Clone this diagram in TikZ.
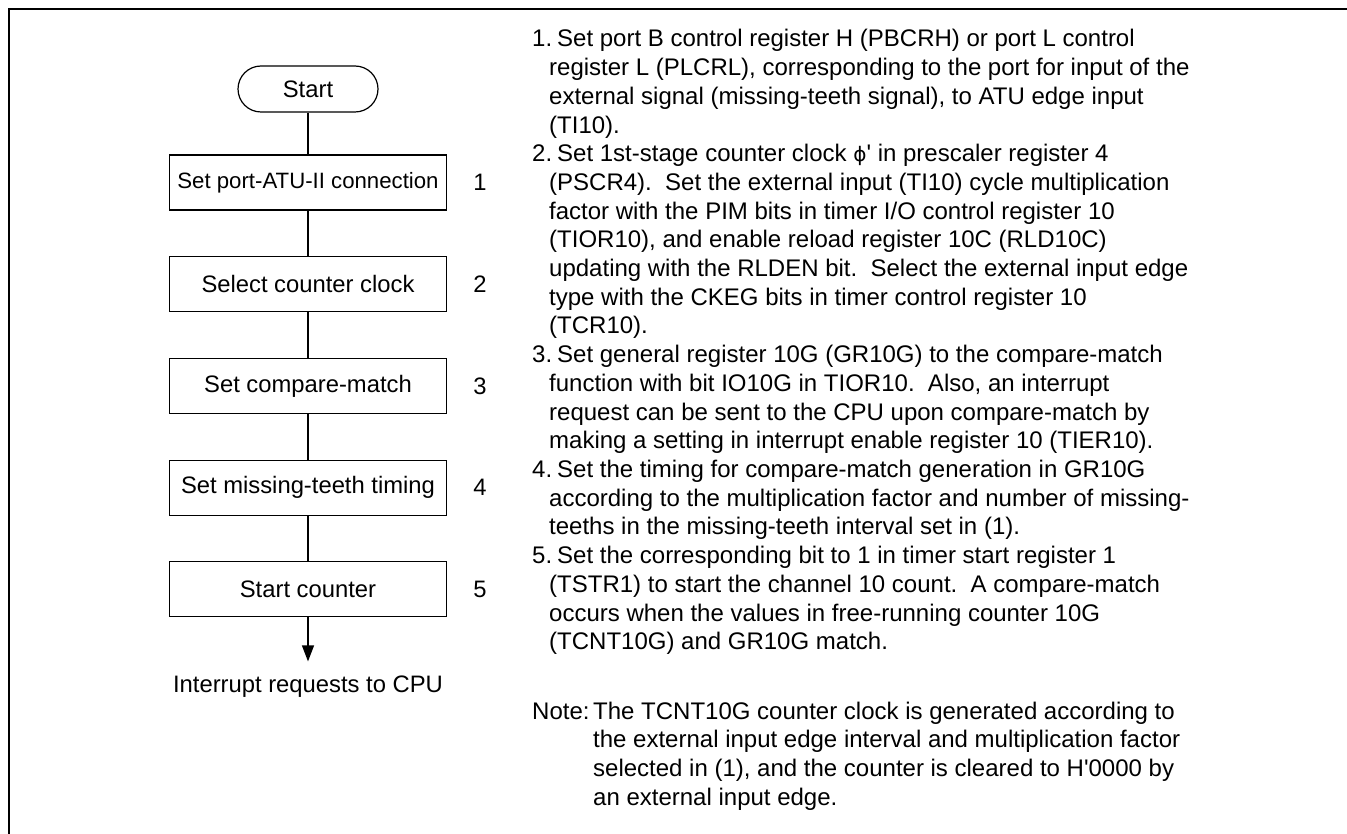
\documentclass[tikz,border=0pt]{standalone}
\usepackage{fontspec}
\setmainfont{Liberation Sans}
\newfontfamily\greekfont{DejaVu Sans}
\usetikzlibrary{arrows.meta,positioning}

\newcommand\itemtext[1]{\parbox[t]{760pt}{\raggedright #1}}

\begin{document}
\begin{tikzpicture}[
  x=1pt, y=-1pt,
  node distance=45.5pt and 26pt,
  every node/.style={font=\fontsize{23.8}{28.7}\selectfont},
  term/.style={draw, rounded corners=23pt, minimum width=140pt, minimum height=46pt, line width=1.2pt},
  box/.style={draw, minimum width=277pt, minimum height=55pt, inner xsep=2pt, line width=1.2pt},
  steplab/.style={inner sep=0pt},
  link/.style={line width=1.2pt},
  arr/.style={line width=1.2pt, -{Triangle[length=16pt, width=12pt]}},
  num/.style={inner sep=0pt, anchor=base west, font=\fontsize{24}{28.7}\selectfont},
  txt/.style={inner sep=0pt, anchor=base west, font=\fontsize{24}{28.7}\selectfont}
]
\useasboundingbox (0,0) rectangle (1347,834);
\draw[line width=2.6pt] (9,834) -- (9,9) -- (1347,9);

% flow
\node[term] (start) at (308,89) {Start};
\node[box, below=41.8pt of start, font=\fontsize{22.2}{28.7}\selectfont] (b1) {Set port-ATU-II connection};
\node[box, below=of b1] (b2) {Select counter clock};
\node[box, below=of b2] (b3) {Set compare-match};
\node[box, below=of b3] (b4) {Set missing-teeth timing};
\node[box, below=of b4] (b5) {Start counter};
\node[inner sep=0pt, below=58pt of b5] (irq) {Interrupt requests to CPU};

\node[steplab, right=of b1] (l1) {1};
\node[steplab, right=of b2] (l2) {2};
\node[steplab, right=of b3] (l3) {3};
\node[steplab, right=of b4] (l4) {4};
\node[steplab, right=of b5] (l5) {5};

\draw[link] (start) -- (b1);
\draw[link] (b1) -- (b2);
\draw[link] (b2) -- (b3);
\draw[link] (b3) -- (b4);
\draw[link] (b4) -- (b5);
\draw[arr, shorten >=14pt] (b5) -- (irq);

% notes
\node[num] (n1) at (532,47) {1.};
\node[txt] (t1) at (549,47) {\itemtext{\hspace*{8pt}Set port B control register H (PBCRH) or port L control\\
register L (PLCRL), corresponding to the port for input of the\\
external signal (missing-teeth signal), to ATU edge input\\
(TI10).}};
\node[num] (n2) at (532,161.8) {2.};
\node[txt] (t2) at (549,161.8) {\itemtext{\hspace*{8pt}Set 1st-stage counter clock {\greekfont\fontsize{20}{28.7}\selectfont ϕ}\textquotesingle{} in prescaler register 4\\
(PSCR4).\ \ Set the external input (TI10) cycle multiplication\\
factor with the PIM bits in timer I/O control register 10\\
(TIOR10), and enable reload register 10C (RLD10C)\\
updating with the RLDEN bit.\ \ Select the external input edge\\
type with the CKEG bits in timer control register 10\\
(TCR10).}};
\node[num] (n3) at (532,362.7) {3.};
\node[txt] (t3) at (549,362.7) {\itemtext{\hspace*{8pt}Set general register 10G (GR10G) to the compare-match\\
function with bit IO10G in TIOR10.\ \ Also, an interrupt\\
request can be sent to the CPU upon compare-match by\\
making a setting in interrupt enable register 10 (TIER10).}};
\node[num] (n4) at (532,477.5) {4.};
\node[txt] (t4) at (549,477.5) {\itemtext{\hspace*{8pt}Set the timing for compare-match generation in GR10G\\
according to the multiplication factor and number of missing-\\
teeths in the missing-teeth interval set in (1).}};
\node[num] (n5) at (532,563.6) {5.};
\node[txt] (t5) at (549,563.6) {\itemtext{\hspace*{8pt}Set the corresponding bit to 1 in timer start register 1\\
(TSTR1) to start the channel 10 count.\ \ A compare-match\\
occurs when the values in free-running counter 10G\\
(TCNT10G) and GR10G match.}};
\node[num] (nn) at (532,719) {Note:};
\node[txt] (tn) at (593,719) {\itemtext{The TCNT10G counter clock is generated according to\\
the external input edge interval and multiplication factor\\
selected in (1), and the counter is cleared to H\textquotesingle0000 by\\
an external input edge.}};
\end{tikzpicture}
\end{document}
